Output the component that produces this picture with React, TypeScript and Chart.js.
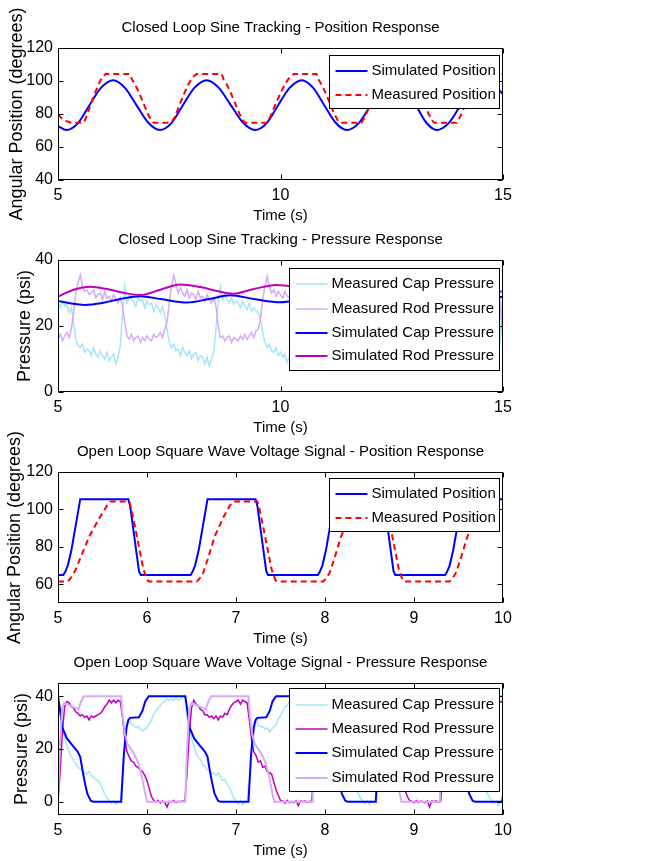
import React, { useEffect, useRef } from 'react';
import { Chart, registerables } from 'chart.js';

Chart.register(...registerables);

// ---------------- Plot 1: Closed loop sine tracking, position ----------------
const p1SimT = [5.00, 5.19, 5.45, 5.71, 5.97, 6.24, 6.50, 6.76, 7.02, 7.29, 7.55, 7.81, 8.07, 8.34, 8.61, 8.88, 9.15, 9.43, 9.69, 9.95, 10.21, 10.48, 10.73, 10.98, 11.23, 11.49, 11.76, 12.03, 12.30, 12.57, 12.80, 13.04, 13.27, 13.51, 13.78, 14.05, 14.31, 14.58, 14.85, 15.00];
const p1SimPos = [72.7, 70.3, 74.5, 85.5, 96, 100.5, 96, 85.5, 75, 70.3, 74.5, 85.5, 96, 100.5, 96, 85.5, 75, 70.3, 74.5, 85.5, 96, 100.5, 96, 85.5, 75, 70.3, 74.5, 85.5, 96, 100.5, 96, 85.5, 75, 70.3, 74.5, 85.5, 96, 100.5, 96, 92];

const p1MeasT = [
  5.00, 5.08, 5.18, 5.30, 5.58,
  5.65, 5.73, 5.82, 5.91, 6.00, 6.07, 6.62,
  6.66, 6.72, 6.82, 6.92, 7.02, 7.10, 7.15, 7.55,
  7.64, 7.73, 7.83, 7.93, 8.03, 8.12, 8.68,
  8.72, 8.78, 8.88, 8.98, 9.08, 9.16, 9.21, 9.69,
  9.78, 9.88, 9.99, 10.10, 10.21, 10.30, 10.81,
  10.85, 10.91, 11.01, 11.11, 11.21, 11.29, 11.34, 11.82,
  11.91, 12.01, 12.11, 12.22, 12.33, 12.42, 12.93,
  12.97, 13.03, 13.13, 13.23, 13.33, 13.41, 13.46, 13.96,
  14.05, 14.15, 14.25, 14.36, 14.47, 14.56, 15.00,
];
const p1MeasPos = [
  79.8, 77.5, 75.8, 74.7, 74.7,
  79, 85.5, 92, 98, 102.5, 104.2, 104.2,
  101, 98.5, 93, 86.5, 80, 76, 74.7, 74.7,
  79, 85.5, 92, 98, 102.5, 104.2, 104.2,
  101, 98.5, 93, 86.5, 80, 76, 74.7, 74.7,
  79, 85.5, 92, 98, 102.5, 104.2, 104.2,
  101, 98.5, 93, 86.5, 80, 76, 74.7, 74.7,
  79, 85.5, 92, 98, 102.5, 104.2, 104.2,
  101, 98.5, 93, 86.5, 80, 76, 74.7, 74.7,
  79, 85.5, 92, 98, 102.5, 104.2, 104.2,
];

// ---------------- Plot 2: Closed loop sine tracking, pressure ----------------
const p2SampleStart = 5;
const p2SampleStep = 0.05;
const p2MeasCap = [
  27, 25.5, 27.5, 26, 26.5, 24, 25.5,
  21, 16, 14,
  13.5, 14.5, 12, 13, 12.5, 11, 13.5, 11.5, 10.5, 12.5, 11, 10, 12, 9.5, 10.5, 11.5, 8.5, 10.5,
  14, 24, 32,
  27, 29, 28, 27.5, 26, 28.5, 27.5, 28, 25.5, 27.5, 26.5, 27, 24.5, 26.5, 25.5, 24, 26,
  23, 19, 15,
  13.5, 14.5, 12.5, 13, 11, 13.5, 12, 11, 12.5, 10, 11.5, 12, 9.5, 11, 10.5, 8.5, 10.5, 8, 10, 12,
  19, 27, 32,
  28, 29.5, 28, 27, 28.5, 26.5, 27.5, 27, 25.5, 27.5, 26, 25, 27, 24.5, 25.5, 24.5, 24,
  22, 18, 15,
  13.5, 14.5, 12.5, 12, 13.5, 11, 12, 10.5, 11.5, 9, 10.5,
];
const p2MeasRod = [
  16, 17.5, 15.5, 17, 18, 16.5, 19,
  24, 30, 33, 35.5,
  32, 30.5, 31, 29.5, 30, 31, 28.5, 29.5, 30, 28, 30.5, 28.5, 29, 27.5, 29.5, 28, 27, 28.5,
  26, 21, 17,
  16, 17.5, 15.5, 16.5, 17, 15, 16.5, 15.5, 17, 16, 15.5, 17.5, 16.5, 17, 18, 16.5, 19,
  21, 27, 32, 35.5,
  33, 30, 31.5, 30, 29, 31, 28.5, 30, 29.5, 28, 30.5, 28.5, 29, 27.5, 29.5, 28, 27, 28.5,
  26, 20, 16.5,
  17, 15.5, 16.5, 17, 15, 16.5, 16, 15.5, 17, 16, 17.5, 16, 17, 18, 16.5, 18.5, 19,
  22, 28, 32, 35,
  32, 30, 31, 29, 30.5, 29.5, 28.5, 30.5, 29, 28.5,
];
const p2MeasCapTailT = [10.3, 10.5, 10.7, 10.78, 10.85, 11.2, 11.6, 11.8, 11.9, 12.3, 12.8, 12.9, 12.95, 13.3, 13.8, 13.95, 14.05, 14.5, 14.9, 14.95, 15.0];
const p2MeasCapTail = [11, 10, 12, 30, 28, 27, 25, 20, 13, 11, 10, 25, 31, 27, 25, 18, 13, 11, 10, 18, 32];
const p2MeasRodTailT = [10.5, 10.75, 10.8, 11.2, 11.7, 11.85, 12.2, 12.85, 12.95, 13.5, 13.9, 14.0, 14.5, 14.93, 15.0];
const p2MeasRodTail = [29, 27, 17, 16, 18, 34, 30, 27, 17, 16, 18, 34, 30, 28, 15];
const p2SimCapT = [5.0, 5.3, 5.6, 6.0, 6.4, 6.85, 7.3, 7.9, 8.4, 8.87, 9.4, 10.0, 10.5, 11.0, 11.5, 12.1, 12.6, 13.1, 13.6, 14.2, 14.7, 15.0];
const p2SimCap = [27.6, 26.8, 26.4, 27.0, 28.2, 29.0, 28.2, 27.1, 28.2, 29.3, 28.2, 27.2, 28.2, 29.3, 28.2, 27.2, 28.2, 29.3, 28.2, 27.2, 28.2, 28.9];
const p2SimRodT = [5.0, 5.35, 5.73, 6.1, 6.5, 6.85, 7.3, 7.75, 8.2, 8.6, 8.94, 9.4, 9.9, 10.3, 10.7, 11.05, 11.5, 12.0, 12.4, 12.8, 13.15, 13.6, 14.1, 14.5, 15.0];
const p2SimRod = [28.9, 31.0, 31.9, 31.2, 30.0, 29.4, 31.0, 32.6, 31.8, 30.5, 29.8, 31.2, 32.4, 31.9, 30.5, 29.8, 31.2, 32.4, 31.9, 30.5, 29.8, 31.2, 32.4, 31.9, 30.3];

// ---------------- Plot 3: Open loop square wave, position ----------------
const p3SimT = [
  5.00, 5.06, 5.08, 5.11, 5.15, 5.25, 5.79, 5.81, 5.91, 5.93,
  6.49, 6.51, 6.54, 6.58, 6.68, 7.22, 7.24, 7.34, 7.36,
  7.92, 7.94, 7.97, 8.01, 8.11, 8.65, 8.67, 8.77, 8.79,
  9.35, 9.37, 9.40, 9.44, 9.54, 10.00,
];
const p3SimPos = [
  65, 65, 66.5, 70, 78, 105.5, 105.5, 102, 67, 65,
  65, 66.5, 70, 78, 105.5, 105.5, 102, 67, 65,
  65, 66.5, 70, 78, 105.5, 105.5, 102, 67, 65,
  65, 66.5, 70, 78, 105.5, 105.5,
];
const p3MeasT = [
  5.00, 5.10, 5.13, 5.16, 5.20, 5.26, 5.35, 5.46, 5.55, 5.59, 5.80, 5.82, 5.86, 5.91, 5.96, 6.00, 6.02,
  6.56, 6.59, 6.63, 6.68, 6.76, 6.86, 6.93, 6.97, 7.24, 7.26, 7.30, 7.35, 7.40, 7.44, 7.46,
  7.98, 8.01, 8.05, 8.10, 8.18, 8.28, 8.35, 8.39, 8.67, 8.69, 8.73, 8.78, 8.83, 8.87, 8.89,
  9.40, 9.43, 9.47, 9.52, 9.60, 9.70, 9.77, 9.81, 10.00,
];
const p3MeasPos = [
  61.5, 61.5, 62.5, 64.5, 68, 75, 85.5, 95, 102, 104.3, 104.3, 101, 92, 80, 68, 62.5, 61.5,
  61.5, 63, 66, 73, 85.5, 96, 102, 104.3, 104.3, 101, 92, 80, 68, 62.5, 61.5,
  61.5, 63, 66, 73, 85.5, 96, 102, 104.3, 104.3, 101, 92, 80, 68, 62.5, 61.5,
  61.5, 63, 66, 73, 85.5, 96, 102, 104.3, 104.3,
];

// ---------------- Plot 4: Open loop square wave, pressure ----------------
const p4SampleStart = 5;
const p4SampleStep = 0.025;
const p4MeasCap = [
  40, 33, 28, 24.5, 21, 19, 17, 15.5, 14.5, 13, 12.5, 11.5, 11, 10.5, 11.5, 10, 9, 8.5, 8, 7, 5, 3, 1.5, 0.5, -0.5, 0.3, -1, 0.2, 0, 10, 24, 30.5, 31, 29.5, 29, 28, 28.5, 27.5, 27, 27.5, 28, 29.5, 31, 33, 34.5, 35.5, 36.5, 37.5, 38, 39, 38.5, 39, 38.5, 39.5, 38.5, 39, 39.5,
  40, 32, 27.5, 24, 21.5, 18.5, 17, 16, 14, 13.5, 12, 12, 10.5, 11, 10, 11, 9.5, 8, 8.5, 6.5, 5.5, 3.5, 1.5, 0.3, -0.8, 0.4, -1.2, 0.3, -0.2, 9, 23, 30, 31.5, 29, 28.5, 28.5, 27.5, 28, 26.5, 27.5, 28.5, 29, 31.5, 32.5, 34.5, 36, 36.5, 38, 37.5, 38.5, 39, 38.5, 39.5, 38.5, 39, 39.5, 39,
  40, 33, 28.5, 24, 21, 19, 17.5, 15.5, 14.5, 13.5, 12.5, 12, 11, 10.5, 11, 10, 9.5, 8.5, 7.5, 7, 5, 3, 1.2, 0.4, -0.6, 0.5, -0.8, 0.2, 0, -0.3, 10, 24, 30.5, 31, 29.5, 28.5, 28.5, 27.5, 27, 28, 28.5, 30, 31, 33.5, 34.5, 35.5, 37, 37.5, 38.5, 38.5, 39, 38.5, 39.5, 38.5, 39, 39.5, 39, 39.5,
  40, 32.5, 28, 24, 21, 19, 17, 15.5, 14.5, 13.5, 12.5, 11.5, 11, 10.5, 11.5, 10, 9, 8.5, 7.5, 7, 5, 3, 1.5, 0.5, -0.6, 0.3, -1.5, 0.2, 0.5,
];
const p4MeasRod = [
  0, 12, 27, 36, 38, 37.5, 36, 35.5, 34, 33.5, 32.5, 33, 32, 32.5, 31, 32.5, 32, 32.5, 33, 33.5, 34.5, 36, 37, 38.5, 37.5, 38.5, 37.5, 38.5, 38, 32, 24, 19, 17, 15.5, 15, 13.5, 13, 12, 11.5, 10, 8, 5, 2, 0.5, 0, 0.5, -0.5, 0.3, -0.3, -2, 0.2, 0, 0.5, -0.3, 0.2, 0, 0.3,
  0.2, 11, 26, 35.5, 38.5, 37, 36.5, 35, 34.5, 33, 33, 32, 32.5, 31.5, 32.5, 31, 32.5, 32, 33.5, 33, 35, 36.5, 37.5, 38, 38.5, 37, 38.5, 38, 37.5, 31, 23.5, 19, 17.5, 15, 15.5, 13, 13.5, 11.5, 11, 10.5, 7.5, 4.5, 2.5, 0.5, 0.3, -0.5, 0.5, -0.4, 0.2, -0.3, 0.4, -1.5, 0.3, 0, 0.4, -0.2, 0.2,
  0, 12, 27.5, 36, 38, 37, 36, 35, 34.5, 33, 32.5, 33, 32, 32.5, 31.5, 32, 32.5, 32, 33, 34, 35, 36.5, 37.5, 38, 38.5, 37.5, 38.5, 37.5, 38.5, 37.5, 31, 23, 19, 17, 15.5, 14.5, 13.5, 13, 12, 11, 9.5, 7.5, 4.5, 2, 0.5, 0.2, -0.4, 0.5, -0.3, 0.3, 0, -0.4, 0.4, -2, 0.3, 0, 0.4, -0.2,
  0.3, 11, 26.5, 35.5, 38, 37.5, 36, 35, 34, 33.5, 32.5, 33, 32, 32.5, 31, 32.5, 32, 32.5, 33, 34, 35, 36.5, 37.5, 38, 37.5, 38.5, 37.5, 38, 37.5,
];
const p4SimCapT = [
  5.00, 5.02, 5.05, 5.10, 5.16, 5.22, 5.25, 5.27, 5.30, 5.33, 5.37, 5.40, 5.71, 5.74, 5.77, 5.79, 5.81, 5.91, 5.95, 5.98, 6.02,
  6.43, 6.45, 6.48, 6.53, 6.59, 6.65, 6.68, 6.70, 6.73, 6.76, 6.80, 6.83, 7.14, 7.17, 7.20, 7.22, 7.24, 7.34, 7.38, 7.41, 7.45,
  7.86, 7.88, 7.91, 7.96, 8.02, 8.08, 8.11, 8.13, 8.16, 8.19, 8.23, 8.26, 8.57, 8.60, 8.63, 8.65, 8.67, 8.77, 8.81, 8.84, 8.88,
  9.29, 9.31, 9.34, 9.39, 9.45, 9.51, 9.54, 9.56, 9.59, 9.62, 9.66, 9.69, 9.99, 10.00,
];
const p4SimCap = [
  40, 35.5, 28, 24, 21.5, 19, 17, 13, 7.5, 3, 0.3, 0, 0, 18, 28, 31, 31.8, 32, 34.5, 38, 40,
  40, 35.5, 28, 24, 21.5, 19, 17, 13, 7.5, 3, 0.3, 0, 0, 18, 28, 31, 31.8, 32, 34.5, 38, 40,
  40, 35.5, 28, 24, 21.5, 19, 17, 13, 7.5, 3, 0.3, 0, 0, 18, 28, 31, 31.8, 32, 34.5, 38, 40,
  40, 35.5, 28, 24, 21.5, 19, 17, 13, 7.5, 3, 0.3, 0, 0, 2.5,
];
const p4SimRodT = [
  5.00, 5.02, 5.045, 5.07, 5.10, 5.20, 5.23, 5.26, 5.29, 5.71, 5.725, 5.75, 5.78, 5.85, 5.90, 5.94, 5.98, 6.00,
  6.43, 6.45, 6.475, 6.50, 6.53, 6.63, 6.66, 6.69, 6.72, 7.14, 7.155, 7.18, 7.21, 7.28, 7.33, 7.37, 7.41, 7.43,
  7.86, 7.88, 7.905, 7.93, 7.96, 8.06, 8.09, 8.12, 8.15, 8.57, 8.585, 8.61, 8.64, 8.71, 8.76, 8.80, 8.84, 8.86,
  9.29, 9.31, 9.335, 9.36, 9.39, 9.49, 9.52, 9.55, 9.58, 10.00,
];
const p4SimRod = [
  0, 20, 35, 37.5, 37, 35.5, 35, 38, 40, 40, 33, 26, 22, 18.5, 15, 10, 3, 0,
  0, 20, 35, 37.5, 37, 35.5, 35, 38, 40, 40, 33, 26, 22, 18.5, 15, 10, 3, 0,
  0, 20, 35, 37.5, 37, 35.5, 35, 38, 40, 40, 33, 26, 22, 18.5, 15, 10, 3, 0,
  0, 20, 35, 37.5, 37, 35.5, 35, 38, 40, 40,
];

// ---------------- Axis ticks ----------------
const xTicksLong = [5, 10, 15];
const xTicksShort = [5, 6, 7, 8, 9, 10];
const yTicksPosition1 = [40, 60, 80, 100, 120];
const yTicksPressure1 = [0, 20, 40];
const yTicksPosition2 = [60, 80, 100, 120];
const yTicksPressure2 = [0, 20, 40];

// ---------------- Helpers ----------------
type Pt = { x: number; y: number };
const pair = (xs: number[], ys: number[]): Pt[] => ys.map((y, i) => ({ x: xs[i], y }));
const sampled = (t0: number, dt: number, ys: number[]): Pt[] =>
  ys.map((y, i) => ({ x: Math.round((t0 + i * dt) * 10000) / 10000, y }));

const FONT = "'Liberation Sans', Arial, Helvetica, sans-serif";
const BLUE = '#0000ff';
const RED = '#ff0000';
const CYAN = '#a3e6fa';
const LAVENDER = '#d6aaf8';
const MAGENTA = '#bf00bf';

type Series = { label: string; color: string; width: number; dash?: number[]; smooth?: boolean; data: Pt[] };
type Panel = {
  title: string;
  yLabel: string;
  xMin: number; xMax: number; xTicks: number[];
  yMin: number; yMax: number; yTicks: number[];
  series: Series[];
  legend: { w: number; h: number; top: number; rows: number[] };
  canvasTop: number; canvasHeight: number; plotTop: number; plotBottom: number; yTitlePad: number;
};

const PLOT_LEFT = 58;
const PLOT_RIGHT = 503;
const PAGE_W = 647;
const X_AXIS_H = 45;

const panels: Panel[] = [
  {
    title: 'Closed Loop Sine Tracking - Position Response',
    yLabel: 'Angular Position (degrees)',
    xMin: 5, xMax: 15, xTicks: xTicksLong,
    yMin: 40, yMax: 120, yTicks: yTicksPosition1,
    series: [
      { label: 'Simulated Position', color: BLUE, width: 2, smooth: true, data: pair(p1SimT, p1SimPos) },
      { label: 'Measured Position', color: RED, width: 2, dash: [6, 4], data: pair(p1MeasT, p1MeasPos) },
    ],
    legend: { w: 170, h: 53, top: 7, rows: [15, 39] },
    canvasTop: 0, canvasHeight: 230, plotTop: 48, plotBottom: 180, yTitlePad: 6,
  },
  {
    title: 'Closed Loop Sine Tracking - Pressure Response',
    yLabel: 'Pressure (psi)',
    xMin: 5, xMax: 15, xTicks: xTicksLong,
    yMin: 0, yMax: 40, yTicks: yTicksPressure1,
    series: [
      { label: 'Measured Cap Pressure', color: CYAN, width: 1.5, data: [...sampled(p2SampleStart, p2SampleStep, p2MeasCap), ...pair(p2MeasCapTailT, p2MeasCapTail)] },
      { label: 'Measured Rod Pressure', color: LAVENDER, width: 1.5, data: [...sampled(p2SampleStart, p2SampleStep, p2MeasRod), ...pair(p2MeasRodTailT, p2MeasRodTail)] },
      { label: 'Simulated Cap Pressure', color: BLUE, width: 2, smooth: true, data: pair(p2SimCapT, p2SimCap) },
      { label: 'Simulated Rod Pressure', color: MAGENTA, width: 2, smooth: true, data: pair(p2SimRodT, p2SimRod) },
    ],
    legend: { w: 210, h: 102, top: 8, rows: [15, 40, 64, 87] },
    canvasTop: 200, canvasHeight: 245, plotTop: 260, plotBottom: 392, yTitlePad: 14,
  },
  {
    title: 'Open Loop Square Wave Voltage Signal - Position Response',
    yLabel: 'Angular Position (degrees)',
    xMin: 5, xMax: 10, xTicks: xTicksShort,
    yMin: 50, yMax: 120, yTicks: yTicksPosition2,
    series: [
      { label: 'Simulated Position', color: BLUE, width: 2, data: pair(p3SimT, p3SimPos) },
      { label: 'Measured Position', color: RED, width: 2, dash: [6, 4], data: pair(p3MeasT, p3MeasPos) },
    ],
    legend: { w: 170, h: 53, top: 6, rows: [15, 39] },
    canvasTop: 412, canvasHeight: 245, plotTop: 472, plotBottom: 603, yTitlePad: 4,
  },
  {
    title: 'Open Loop Square Wave Voltage Signal - Pressure Response',
    yLabel: 'Pressure (psi)',
    xMin: 5, xMax: 10, xTicks: xTicksShort,
    yMin: -5, yMax: 45, yTicks: yTicksPressure2,
    series: [
      { label: 'Measured Cap Pressure', color: CYAN, width: 1.5, data: sampled(p4SampleStart, p4SampleStep, p4MeasCap) },
      { label: 'Measured Rod Pressure', color: MAGENTA, width: 1.5, data: sampled(p4SampleStart, p4SampleStep, p4MeasRod) },
      { label: 'Simulated Cap Pressure', color: BLUE, width: 2, data: pair(p4SimCapT, p4SimCap) },
      { label: 'Simulated Rod Pressure', color: LAVENDER, width: 2, data: pair(p4SimRodT, p4SimRod) },
    ],
    legend: { w: 210, h: 103, top: 5, rows: [16, 40, 64, 89] },
    canvasTop: 625, canvasHeight: 236, plotTop: 683, plotBottom: 815, yTitlePad: 11,
  },
];

function framePlugin(p: Panel) {
  return {
    id: 'matlabFrame',
    afterDraw(chart: any) {
      const { ctx, chartArea: a, scales } = chart;
      const xs = scales.x;
      const ys = scales.y;
      ctx.save();
      ctx.strokeStyle = '#000';
      ctx.lineWidth = 1;
      ctx.setLineDash([]);
      const L = Math.round(a.left) + 0.5;
      const R = Math.round(a.right) - 0.5;
      const T = Math.round(a.top) + 0.5;
      const B = Math.round(a.bottom) - 0.5;
      ctx.strokeRect(L, T, R - L, B - T);
      ctx.beginPath();
      p.xTicks.forEach((v) => {
        const px = Math.round(xs.getPixelForValue(v)) + 0.5;
        ctx.moveTo(px, B); ctx.lineTo(px, B - 5);
        ctx.moveTo(px, T); ctx.lineTo(px, T + 5);
      });
      p.yTicks.forEach((v) => {
        const py = Math.round(ys.getPixelForValue(v)) + 0.5;
        ctx.moveTo(L, py); ctx.lineTo(L + 5, py);
        ctx.moveTo(R, py); ctx.lineTo(R - 5, py);
      });
      ctx.stroke();

      // title
      ctx.fillStyle = '#000';
      ctx.font = `15px ${FONT}`;
      ctx.textAlign = 'center';
      ctx.textBaseline = 'middle';
      ctx.fillText(p.title, (a.left + a.right) / 2, a.top - 20);

      // legend
      const lg = p.legend;
      const bx = Math.round(a.right - 4 - lg.w) + 0.5;
      const by = Math.round(a.top + lg.top) + 0.5;
      ctx.fillStyle = '#fff';
      ctx.fillRect(bx, by, lg.w, lg.h);
      ctx.strokeStyle = '#000';
      ctx.lineWidth = 1;
      ctx.strokeRect(bx, by, lg.w, lg.h);
      p.series.forEach((s, i) => {
        const y = Math.round(by + lg.rows[i]);
        ctx.beginPath();
        ctx.strokeStyle = s.color;
        ctx.lineWidth = s.width;
        ctx.setLineDash(s.dash || []);
        ctx.moveTo(bx + 6, y);
        ctx.lineTo(bx + 38, y);
        ctx.stroke();
        ctx.setLineDash([]);
        ctx.fillStyle = '#000';
        ctx.font = `15px ${FONT}`;
        ctx.textAlign = 'left';
        ctx.textBaseline = 'middle';
        ctx.fillText(s.label, bx + 42, y);
      });
      ctx.restore();
    },
  };
}

function PanelChart({ p }: { p: Panel }) {
  const ref = useRef<HTMLCanvasElement | null>(null);
  useEffect(() => {
    if (!ref.current) return;
    const localTop = p.plotTop - p.canvasTop;
    const localBottom = p.plotBottom - p.canvasTop;
    const chart = new Chart(ref.current, {
      type: 'line',
      data: {
        datasets: p.series.map((s, i) => ({
          label: s.label,
          data: s.data,
          borderColor: s.color,
          backgroundColor: s.color,
          borderWidth: s.width,
          borderDash: s.dash || [],
          pointRadius: 0,
          pointHoverRadius: 0,
          fill: false,
          tension: 0,
          cubicInterpolationMode: s.smooth ? 'monotone' : 'default',
          order: -i,
        })),
      },
      options: {
        responsive: false,
        maintainAspectRatio: false,
        animation: false,
        events: [],
        layout: {
          padding: {
            left: 0,
            right: PAGE_W - PLOT_RIGHT,
            top: localTop,
            bottom: Math.max(0, p.canvasHeight - localBottom - X_AXIS_H),
          },
        },
        plugins: {
          legend: { display: false },
          title: { display: false },
          tooltip: { enabled: false },
        },
        scales: {
          x: {
            type: 'linear',
            min: p.xMin,
            max: p.xMax,
            grid: { display: false, drawTicks: false },
            border: { display: false },
            ticks: {
              color: '#000',
              font: { family: FONT, size: 16 },
              padding: 6,
              maxRotation: 0,
              autoSkip: false,
              callback: (v: any) => String(v),
            },
            afterBuildTicks: (s: any) => { s.ticks = p.xTicks.map((v) => ({ value: v })); },
            afterFit: (s: any) => { s.height = X_AXIS_H; },
            title: {
              display: true,
              text: 'Time (s)',
              color: '#000',
              font: { family: FONT, size: 15 },
              padding: { top: 0, bottom: 0 },
            },
          },
          y: {
            type: 'linear',
            min: p.yMin,
            max: p.yMax,
            grid: { display: false, drawTicks: false },
            border: { display: false },
            ticks: {
              color: '#000',
              font: { family: FONT, size: 16 },
              padding: 5,
              autoSkip: false,
              callback: (v: any) => String(v),
            },
            afterBuildTicks: (s: any) => { s.ticks = p.yTicks.map((v) => ({ value: v })); },
            afterFit: (s: any) => { s.width = PLOT_LEFT; },
            title: {
              display: true,
              text: p.yLabel,
              color: '#000',
              font: { family: FONT, size: 18 },
              padding: { top: p.yTitlePad, bottom: 0 },
            },
          },
        },
      } as any,
      plugins: [framePlugin(p)],
    });
    return () => chart.destroy();
  }, [p]);
  return (
    <canvas
      ref={ref}
      width={PAGE_W}
      height={p.canvasHeight}
      style={{ position: 'absolute', left: 0, top: p.canvasTop, width: PAGE_W, height: p.canvasHeight }}
    />
  );
}

export default function App() {
  return (
    <div
      style={{
        position: 'absolute',
        left: 0,
        top: 0,
        width: PAGE_W,
        height: 861,
        overflow: 'hidden',
        background: '#fff',
      }}
    >
      {panels.map((p, i) => (
        <PanelChart key={i} p={p} />
      ))}
    </div>
  );
}
